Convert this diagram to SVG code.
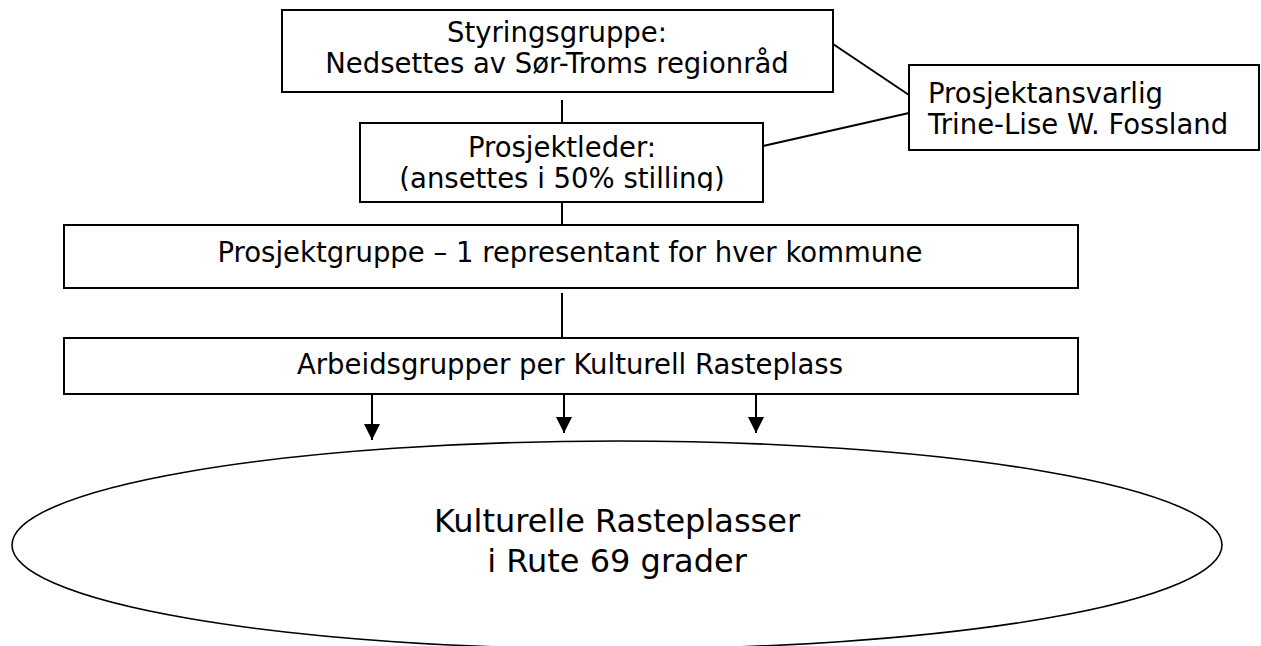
<svg xmlns="http://www.w3.org/2000/svg" width="1261" height="646" viewBox="0 0 1261 646">
  <defs>
    <style>
      .box { fill: #ffffff; stroke: #000000; stroke-width: 2; }
      .ell { fill: #ffffff; stroke: #000000; stroke-width: 1.6; }
      .t { font-family: "DejaVu Sans", Verdana, sans-serif; font-size: 27.5px; fill: #000000; }
      .c { text-anchor: middle; }
      .big { font-family: "DejaVu Sans", Verdana, sans-serif; font-size: 32px; fill: #000000; text-anchor: middle; }
      .ln { stroke: #000000; stroke-width: 2; fill: none; }
    </style>
    <marker id="arr" viewBox="0 0 16 16" refX="16" refY="8" markerWidth="16" markerHeight="16" markerUnits="userSpaceOnUse" orient="auto">
      <path d="M0,0 L16,8 L0,16 Z" fill="#000000"/>
    </marker>
    <clipPath id="clipLeder">
      <rect x="361" y="124" width="401" height="67"/>
    </clipPath>
  </defs>

  <g id="connectors">
    <line class="ln" x1="562" y1="100" x2="562" y2="123"/>
    <line class="ln" x1="562" y1="202" x2="562" y2="225"/>
    <line class="ln" x1="562" y1="293" x2="562" y2="338"/>
    <line class="ln" x1="833" y1="44" x2="909" y2="95"/>
    <line class="ln" x1="763" y1="146" x2="909" y2="113"/>
    <line class="ln" x1="372" y1="394" x2="372" y2="440" marker-end="url(#arr)"/>
    <line class="ln" x1="564" y1="394" x2="564" y2="433" marker-end="url(#arr)"/>
    <line class="ln" x1="756" y1="394" x2="756" y2="433" marker-end="url(#arr)"/>
  </g>

  <g id="styringsgruppe">
    <rect class="box" x="282" y="10" width="551" height="82"/>
    <text class="t c" x="557" y="42">Styringsgruppe:</text>
    <text class="t c" x="557" y="73">Nedsettes av Sør-Troms regionråd</text>
  </g>

  <g id="prosjektansvarlig">
    <rect class="box" x="909" y="65" width="350" height="85"/>
    <text class="t" x="928" y="103">Prosjektansvarlig</text>
    <text class="t" x="928" y="134">Trine-Lise W. Fossland</text>
  </g>

  <g id="prosjektleder">
    <rect class="box" x="360" y="123" width="403" height="79"/>
    <g clip-path="url(#clipLeder)">
      <text class="t c" x="562" y="157">Prosjektleder:</text>
      <text class="t c" x="562" y="188">(ansettes i 50% stilling)</text>
    </g>
  </g>

  <g id="prosjektgruppe">
    <rect class="box" x="64" y="225" width="1014" height="63"/>
    <text class="t c" x="570" y="262">Prosjektgruppe – 1 representant for hver kommune</text>
  </g>

  <g id="arbeidsgrupper">
    <rect class="box" x="64" y="338" width="1014" height="56"/>
    <text class="t c" x="570" y="374">Arbeidsgrupper per Kulturell Rasteplass</text>
  </g>

  <g id="kulturelle">
    <ellipse class="ell" cx="617" cy="545" rx="605" ry="104"/>
    <text class="big" x="617" y="532">Kulturelle Rasteplasser</text>
    <text class="big" x="617" y="572">i Rute 69 grader</text>
  </g>
</svg>
